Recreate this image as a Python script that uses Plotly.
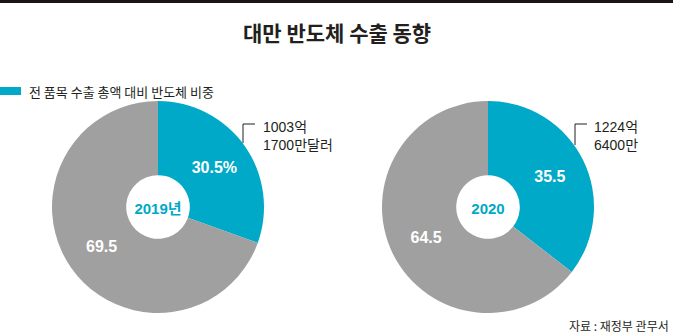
import plotly.graph_objects as go

# Share of semiconductors in total exports (%)
years = ["2019년", "2020"]
segments = ["반도체", "기타"]
share_2019 = [30.5, 69.5]
share_2020 = [35.5, 64.5]
amount_2019 = ["1003억", "1700만달러"]
amount_2020 = ["1224억", "6400만"]

title_text = "대만 반도체 수출 동향"
legend_text = "전 품목 수출 총액 대비 반도체 비중"
source_text = "자료 : 재정부 관무서"

TEAL = "#00A9C7"
GRAY = "#A0A0A0"
INK = "#231F20"
KR = "Noto Sans CJK KR"
NUM = "Liberation Sans, Arial, Noto Sans CJK KR"

W, H = 673, 335


def px(x):
    return x / W


def py(y):
    return 1 - y / H


R = 106
CY = 207


def pie_domain(cx):
    return dict(x=[px(cx - R), px(cx + R)], y=[py(CY + R), py(CY - R)])


def slice_text(vals, pct_first):
    out = []
    for i, v in enumerate(vals):
        out.append(f"{v}%" if (i == 0 and pct_first) else f"{v}")
    return out


fig = go.Figure()

for cx, vals, yr, pct in [(158, share_2019, years[0], True), (488, share_2020, years[1], False)]:
    fig.add_trace(go.Pie(
        labels=segments,
        values=vals,
        text=slice_text(vals, pct),
        textinfo="text",
        textposition="inside",
        insidetextorientation="horizontal",
        textfont=dict(family=NUM, size=16, color="white", weight="bold"),
        marker=dict(colors=[TEAL, GRAY], line=dict(width=0)),
        hole=0.30,
        sort=False,
        direction="clockwise",
        rotation=0,
        domain=pie_domain(cx),
        title=dict(text=yr, position="middle center",
                   font=dict(family=NUM, size=15, color=TEAL, weight="bold")),
        showlegend=False,
        hoverinfo="label+value",
    ))

shapes = [
    # top rule
    dict(type="rect", xref="paper", yref="paper", x0=0, x1=1, y0=py(3), y1=1,
         fillcolor="#1A1414", line=dict(width=0)),
    # legend swatch
    dict(type="rect", xref="paper", yref="paper", x0=0, x1=px(21), y0=py(95), y1=py(87),
         fillcolor=TEAL, line=dict(width=0)),
    # leader lines
    dict(type="path", xref="paper", yref="paper",
         path=f"M {px(243)} {py(143)} L {px(243)} {py(124)} L {px(255)} {py(124)}",
         line=dict(color=INK, width=1)),
    dict(type="path", xref="paper", yref="paper",
         path=f"M {px(575)} {py(145)} L {px(575)} {py(124)} L {px(587)} {py(124)}",
         line=dict(color=INK, width=1)),
]

annotations = [
    dict(text=title_text, x=0.5, y=py(32), xref="paper", yref="paper",
         xanchor="center", yanchor="middle", showarrow=False,
         font=dict(family=KR, size=21, color=INK, weight="bold")),
    dict(text=legend_text, x=px(27), y=py(91), xref="paper", yref="paper",
         xanchor="left", yanchor="middle", showarrow=False,
         font=dict(family=KR, size=13, color=INK)),
    dict(text=source_text, x=px(671), y=py(325), xref="paper", yref="paper",
         xanchor="right", yanchor="middle", showarrow=False,
         font=dict(family=KR, size=12, color=INK)),
    dict(text="<br>".join(amount_2019), x=px(261), y=py(136), xref="paper", yref="paper",
         xanchor="left", yanchor="middle", align="left", showarrow=False,
         font=dict(family=NUM, size=14, color=INK)),
    dict(text="<br>".join(amount_2020), x=px(592), y=py(136), xref="paper", yref="paper",
         xanchor="left", yanchor="middle", align="left", showarrow=False,
         font=dict(family=NUM, size=14, color=INK)),
]

fig.update_layout(
    width=W, height=H, autosize=False,
    margin=dict(l=0, r=0, t=0, b=0),
    paper_bgcolor="white", plot_bgcolor="white",
    shapes=shapes, annotations=annotations,
)

fig.write_html("out.html")
